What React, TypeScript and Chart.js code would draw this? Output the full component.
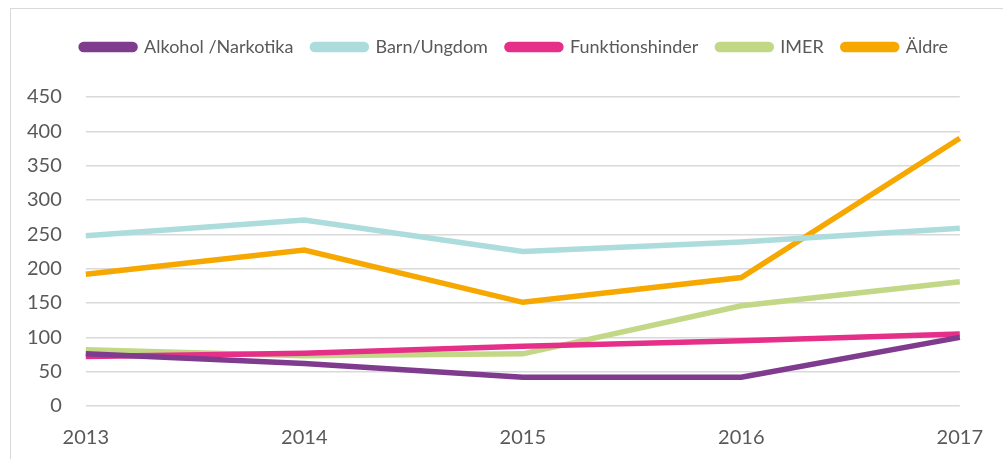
import React, { useEffect, useRef } from "react";
import { Chart, registerables } from "chart.js";

Chart.register(...registerables);

const years = ["2013", "2014", "2015", "2016", "2017"];
const alkohol = [76, 62, 42, 42, 100];
const barnUngdom = [248, 271, 225, 239, 259];
const funktionshinder = [72, 77, 87, 95, 105];
const imer = [82, 73, 76, 146, 181];
const aldre = [192, 227, 151, 187, 390];
const yTicks = [0, 50, 100, 150, 200, 250, 300, 350, 400, 450];

const FONT = "Lato, 'Open Sans', sans-serif";

export default function App() {
  const ref = useRef<HTMLCanvasElement | null>(null);
  useEffect(() => {
    if (!ref.current) return;
    const mk = (label: string, data: number[], color: string) => ({
      label,
      data,
      borderColor: color,
      backgroundColor: color,
      borderWidth: 5.5,
      pointRadius: 0,
      tension: 0,
      borderCapStyle: "butt" as const,
      borderJoinStyle: "miter" as const,
    });
    const legendTweak = {
      id: "legendTweak",
      afterInit(chart: any) {
        const lg = chart.legend;
        if (!lg) return;
        const orig = lg.fit;
        lg.fit = function () {
          orig.call(this);
          this.height += 31;
        };
      },
      afterLayout(chart: any) {
        const lg = chart.legend;
        if (!lg) return;
        lg.left += 30;
        lg.right += 30;
      },
    };
    const chart = new Chart(ref.current, {
      type: "line",
      data: {
        labels: years,
        datasets: [
          mk("Alkohol /Narkotika", alkohol, "#7f3b8e"),
          mk("Barn/Ungdom", barnUngdom, "#acdcdb"),
          mk("Funktionshinder", funktionshinder, "#e62f88"),
          mk("IMER", imer, "#c3d886"),
          mk("Äldre", aldre, "#f6a800"),
        ],
      },
      plugins: [legendTweak],
      options: {
        responsive: false,
        animation: false,
        layout: { padding: { left: 3, right: 37, top: 19, bottom: -11 } },
        plugins: {
          tooltip: { enabled: false },
          legend: {
            position: "top",
            labels: {
              boxWidth: 54,
              boxHeight: 5,
              useBorderRadius: true,
              borderRadius: 2.5,
              padding: 19,
              color: "#595959",
              font: { family: FONT, size: 18 },
            },
          },
        },
        scales: {
          x: {
            offset: false,
            grid: { display: false, drawTicks: false },
            border: { display: false },
            ticks: {
              color: "#595959",
              padding: 20,
              maxRotation: 0,
              font: { family: FONT, size: 20 },
            },
          },
          y: {
            min: 0,
            max: 450,
            afterBuildTicks: (axis: any) => {
              axis.ticks = yTicks.map((v) => ({ value: v }));
            },
            grid: { color: "#d9d9d9", lineWidth: 1.5, drawTicks: false },
            border: { display: false },
            ticks: {
              color: "#595959",
              padding: 24,
              font: { family: FONT, size: 20 },
            },
          },
        },
      },
    });
    return () => chart.destroy();
  }, []);
  return (
    <div
      style={{
        position: "fixed",
        left: 0,
        top: 0,
        width: 1003,
        height: 459,
        background: "#fff",
        overflow: "hidden",
      }}
    >
      <div
        style={{
          position: "absolute",
          left: 10,
          top: 8,
          width: 1003,
          height: 459,
          border: "1.5px solid #d9d9d9",
          boxSizing: "border-box",
        }}
      />
      <canvas
        ref={ref}
        width={1003}
        height={459}
        style={{ position: "absolute", left: 0, top: 0 }}
      />
    </div>
  );
}
